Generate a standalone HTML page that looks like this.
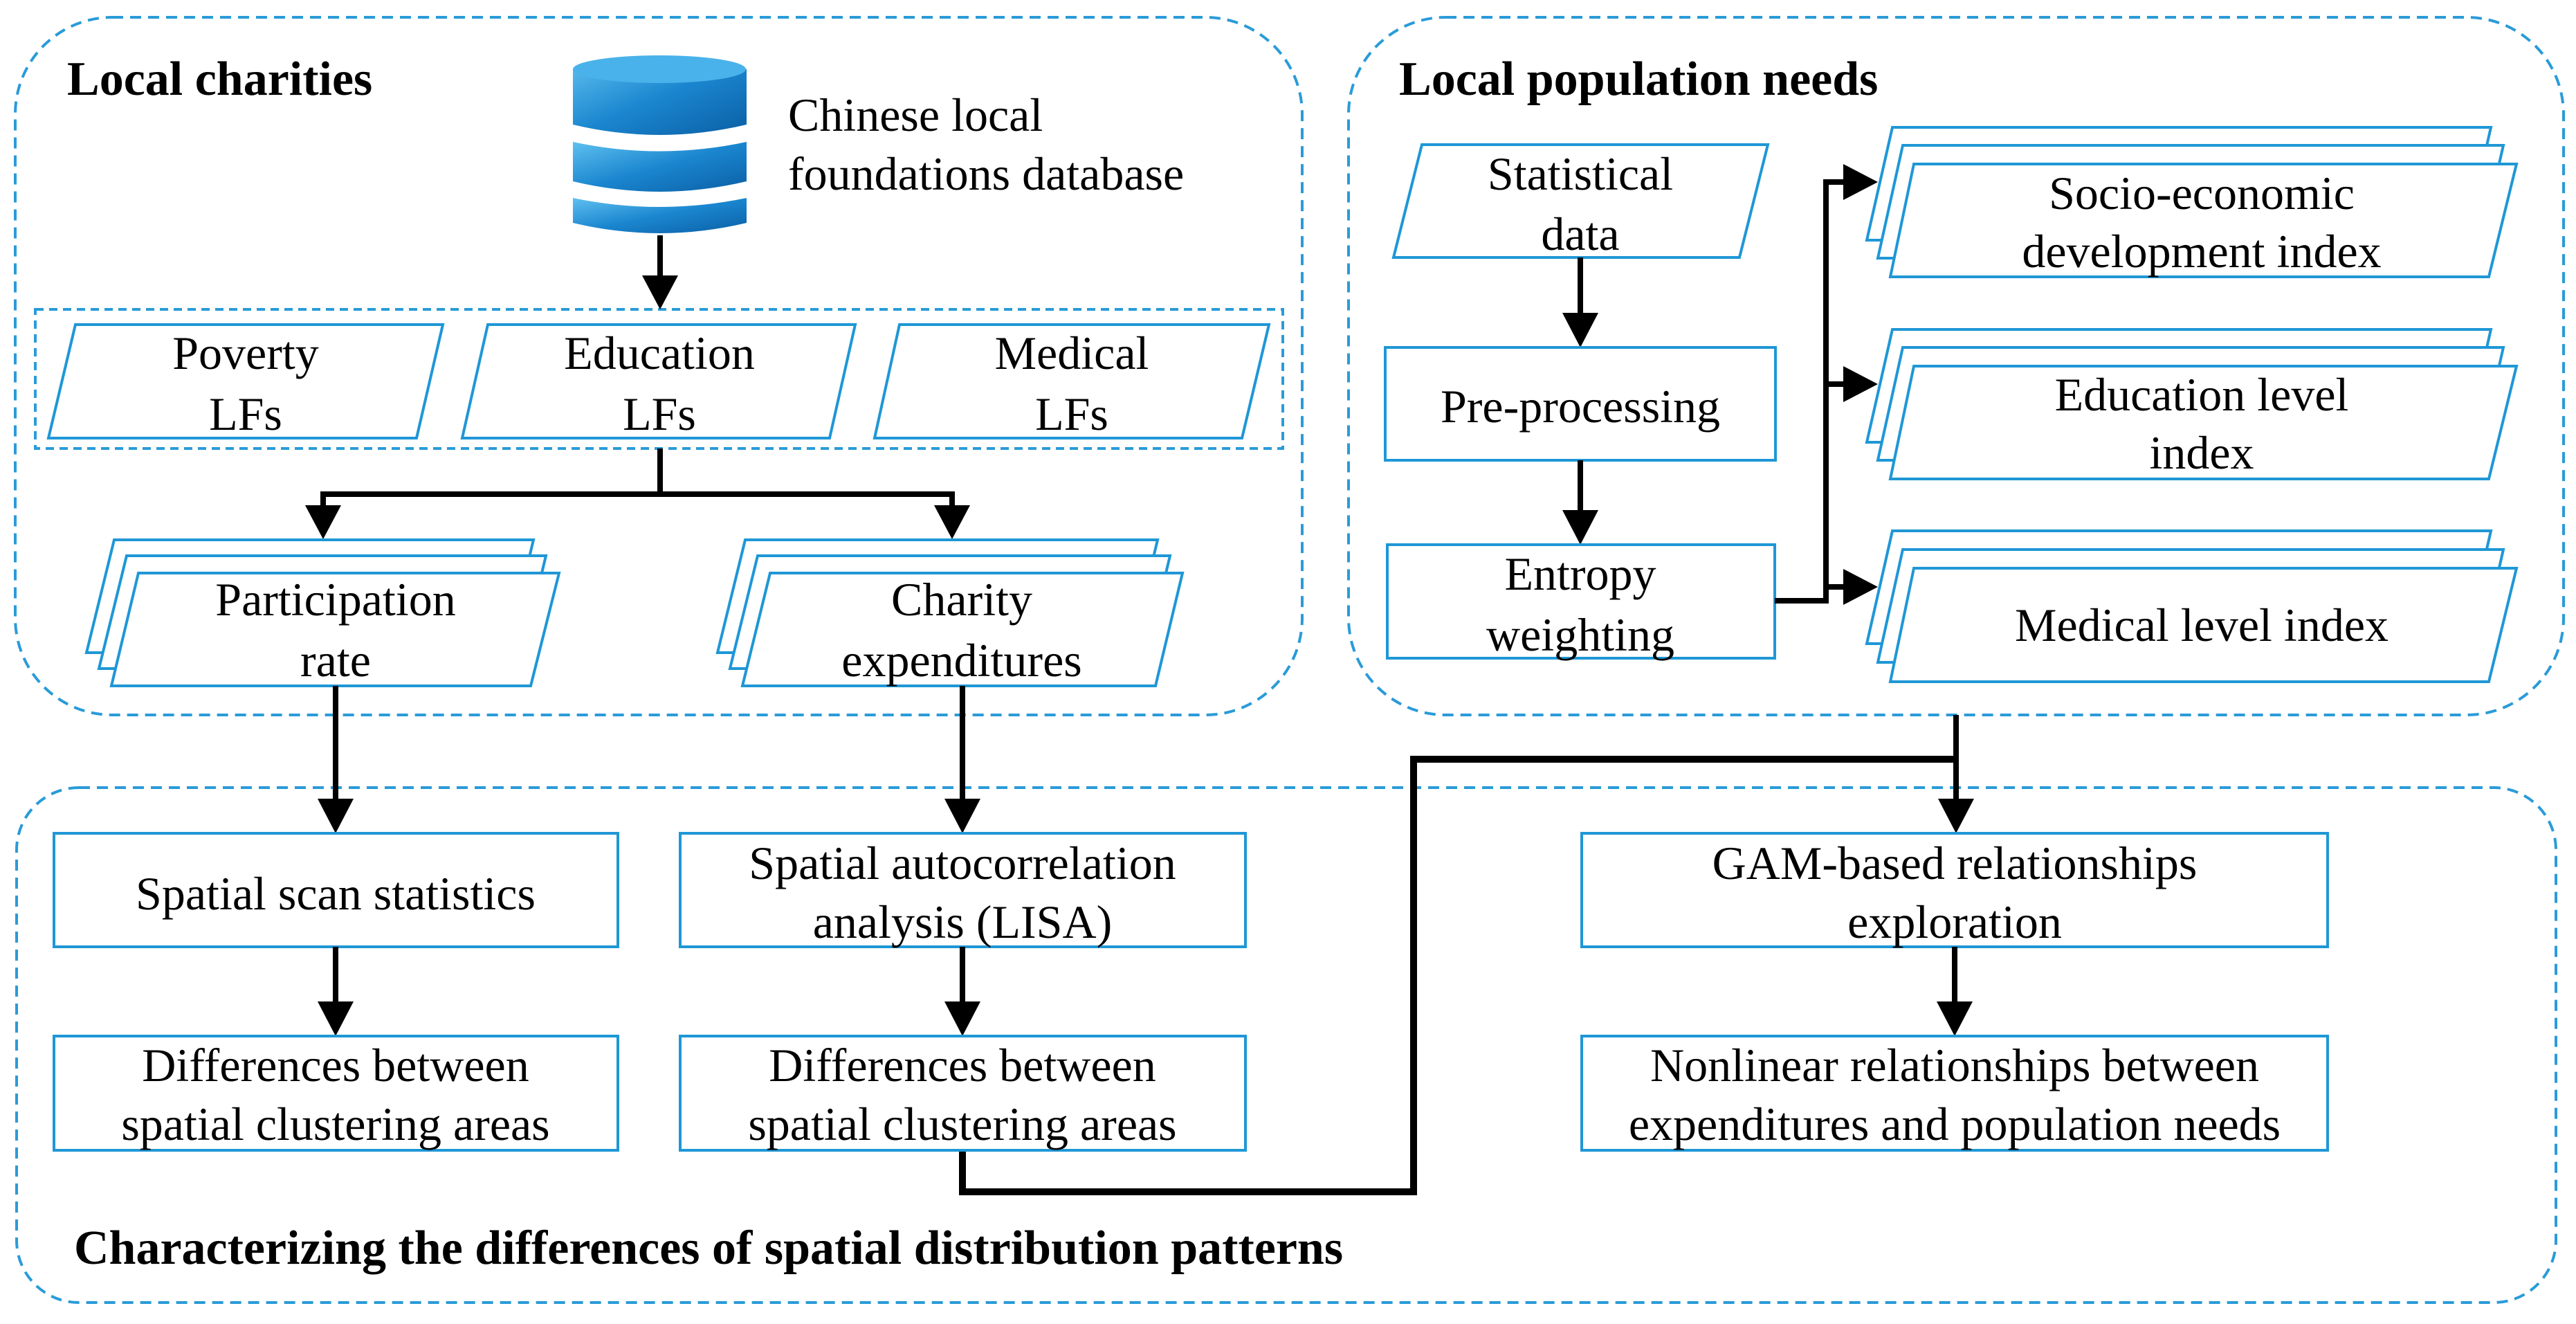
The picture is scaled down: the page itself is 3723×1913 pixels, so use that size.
<!DOCTYPE html>
<html><head><meta charset="utf-8"><style>
html,body{margin:0;padding:0;background:#fff}
svg{display:block}
text{font-family:"Liberation Serif",serif;fill:#000}
.t{font-size:68px;text-anchor:middle}
.h{font-size:70px;font-weight:bold}
.bx{fill:#fff;stroke:#1f97d6;stroke-width:4}
.dash{fill:none;stroke:#2a9bd8;stroke-width:4;stroke-dasharray:16 10}
.ln{stroke:#000;stroke-width:8;fill:none}
</style></head><body>
<svg width="3723" height="1913" viewBox="0 0 3723 1913" xmlns="http://www.w3.org/2000/svg">
<defs>
<linearGradient id="g" x1="0" y1="0" x2="1" y2="1">
<stop offset="0" stop-color="#5fc0f0"/><stop offset="0.5" stop-color="#1a86cf"/><stop offset="1" stop-color="#0b5fa5"/>
</linearGradient>
</defs>

<!-- outer dashed groups -->
<rect class="dash" x="22" y="25" width="1860" height="1008" rx="140" ry="140"/>
<rect class="dash" x="1949" y="25" width="1756" height="1008" rx="140" ry="140"/>
<rect class="dash" x="24" y="1138" width="3670" height="744" rx="90" ry="90"/>
<rect class="dash" x="51" y="447" width="1803" height="201" style="stroke-dasharray:12 8"/>

<!-- titles -->
<text class="h" x="97" y="137">Local charities</text>
<text class="h" x="2022" y="137">Local population needs</text>
<text class="h" x="107" y="1826">Characterizing the differences of spatial distribution patterns</text>

<!-- database -->
<g>
<path d="M828 286 L828 322 Q953 352 1079 322 L1079 286 Q953 312 828 286Z" fill="url(#g)"/>
<path d="M828 205 L828 262 Q953 292 1079 262 L1079 205 Q953 232 828 205Z" fill="url(#g)"/>
<path d="M828 100 L828 180 Q953 210 1079 180 L1079 100 Q953 70 828 100Z" fill="url(#g)"/>
<ellipse cx="953" cy="100" rx="125" ry="20" fill="#4ab2ea"/>
</g>
<text x="1139" y="189" style="font-size:68px">Chinese local</text>
<text x="1139" y="274" style="font-size:68px">foundations database</text>

<!-- LFs parallelograms -->
<polygon class="bx" points="109,469 640,469 602,633 70,633"/>
<polygon class="bx" points="705,469 1236,469 1199,633 668,633"/>
<polygon class="bx" points="1300,469 1834,469 1795,633 1264,633"/>
<text class="t" x="355" y="533">Poverty</text><text class="t" x="355" y="621">LFs</text>
<text class="t" x="953" y="533">Education</text><text class="t" x="953" y="621">LFs</text>
<text class="t" x="1549" y="533">Medical</text><text class="t" x="1549" y="621">LFs</text>

<!-- db arrow -->
<line class="ln" x1="954" y1="340" x2="954" y2="400"/>
<polygon points="928,398 980,398 954,447"/>

<!-- branch -->
<polyline class="ln" points="954,648 954,714"/>
<polyline class="ln" points="467,734 467,714 1376,714 1376,734"/>
<polygon points="441,730 493,730 467,779"/>
<polygon points="1350,730 1402,730 1376,779"/>

<!-- stacked: participation -->
<polygon class="bx" points="165,780 771,780 732,943 125,943"/>
<polygon class="bx" points="183,803 789,803 750,966 143,966"/>
<polygon class="bx" points="200,828 808,828 767,991 161,991"/>
<text class="t" x="485" y="889">Participation</text><text class="t" x="485" y="977">rate</text>
<!-- stacked: charity -->
<polygon class="bx" points="1077,780 1673,780 1634,943 1037,943"/>
<polygon class="bx" points="1095,803 1691,803 1652,966 1055,966"/>
<polygon class="bx" points="1113,828 1709,828 1670,991 1073,991"/>
<text class="t" x="1390" y="889">Charity</text><text class="t" x="1390" y="977">expenditures</text>

<!-- right panel -->
<polygon class="bx" points="2055,209 2555,209 2514,372 2014,372"/>
<text class="t" x="2284" y="274">Statistical</text><text class="t" x="2284" y="361">data</text>
<line class="ln" x1="2284" y1="372" x2="2284" y2="455"/>
<polygon points="2258,452 2310,452 2284,502"/>
<rect class="bx" x="2002" y="502" width="564" height="163"/>
<text class="t" x="2284" y="610">Pre-processing</text>
<line class="ln" x1="2284" y1="665" x2="2284" y2="740"/>
<polygon points="2258,737 2310,737 2284,787"/>
<rect class="bx" x="2005" y="787" width="560" height="164"/>
<text class="t" x="2284" y="852">Entropy</text><text class="t" x="2284" y="940">weighting</text>
<polyline class="ln" points="2565,868 2639,868 2639,263 2670,263"/>
<polyline class="ln" points="2639,555 2670,555"/>
<polyline class="ln" points="2639,848 2670,848"/>
<polygon points="2664,237 2664,289 2714,263"/>
<polygon points="2664,529 2664,581 2714,555"/>
<polygon points="2664,822 2664,874 2714,848"/>

<g>
<polygon class="bx" points="2735,184 3600,184 3563,347 2698,347"/>
<polygon class="bx" points="2750,210 3618,210 3581,373 2714,373"/>
<polygon class="bx" points="2766,237 3637,237 3597,400 2732,400"/>
<text class="t" x="3182" y="302">Socio-economic</text><text class="t" x="3182" y="386">development index</text>
</g>
<g>
<polygon class="bx" points="2735,476 3600,476 3563,639 2698,639"/>
<polygon class="bx" points="2750,502 3618,502 3581,665 2714,665"/>
<polygon class="bx" points="2766,529 3637,529 3597,692 2732,692"/>
<text class="t" x="3182" y="593">Education level</text><text class="t" x="3182" y="677">index</text>
</g>
<g>
<polygon class="bx" points="2735,767 3600,767 3563,930 2698,930"/>
<polygon class="bx" points="2750,794 3618,794 3581,957 2714,957"/>
<polygon class="bx" points="2766,821 3637,821 3597,985 2732,985"/>
<text class="t" x="3182" y="926">Medical level index</text>
</g>

<!-- connectors down -->
<line class="ln" x1="485" y1="991" x2="485" y2="1158"/>
<polygon points="459,1154 511,1154 485,1204"/>
<line class="ln" x1="1391" y1="991" x2="1391" y2="1158"/>
<polygon points="1365,1154 1417,1154 1391,1204"/>
<line class="ln" x1="2827" y1="1033" x2="2827" y2="1158"/>
<polygon points="2801,1154 2853,1154 2827,1204"/>
<polyline points="2827,1097 2043,1097 2043,1722 1391,1722 1391,1662" style="stroke:#000;stroke-width:10;fill:none"/>

<!-- bottom boxes -->
<rect class="bx" x="78" y="1204" width="815" height="164"/>
<text class="t" x="485" y="1314">Spatial scan statistics</text>
<rect class="bx" x="983" y="1204" width="817" height="164"/>
<text class="t" x="1391" y="1270">Spatial autocorrelation</text><text class="t" x="1391" y="1355">analysis (LISA)</text>
<rect class="bx" x="2286" y="1204" width="1078" height="164"/>
<text class="t" x="2825" y="1270">GAM-based relationships</text><text class="t" x="2825" y="1355">exploration</text>

<line class="ln" x1="485" y1="1368" x2="485" y2="1450"/>
<polygon points="459,1447 511,1447 485,1497"/>
<line class="ln" x1="1391" y1="1368" x2="1391" y2="1450"/>
<polygon points="1365,1447 1417,1447 1391,1497"/>
<line class="ln" x1="2825" y1="1368" x2="2825" y2="1450"/>
<polygon points="2799,1447 2851,1447 2825,1497"/>

<rect class="bx" x="78" y="1497" width="815" height="165"/>
<text class="t" x="485" y="1562">Differences between</text><text class="t" x="485" y="1647">spatial clustering areas</text>
<rect class="bx" x="983" y="1497" width="817" height="165"/>
<text class="t" x="1391" y="1562">Differences between</text><text class="t" x="1391" y="1647">spatial clustering areas</text>
<rect class="bx" x="2286" y="1497" width="1078" height="165"/>
<text class="t" x="2825" y="1562">Nonlinear relationships between</text><text class="t" x="2825" y="1647">expenditures and population needs</text>
</svg>
</body></html>
